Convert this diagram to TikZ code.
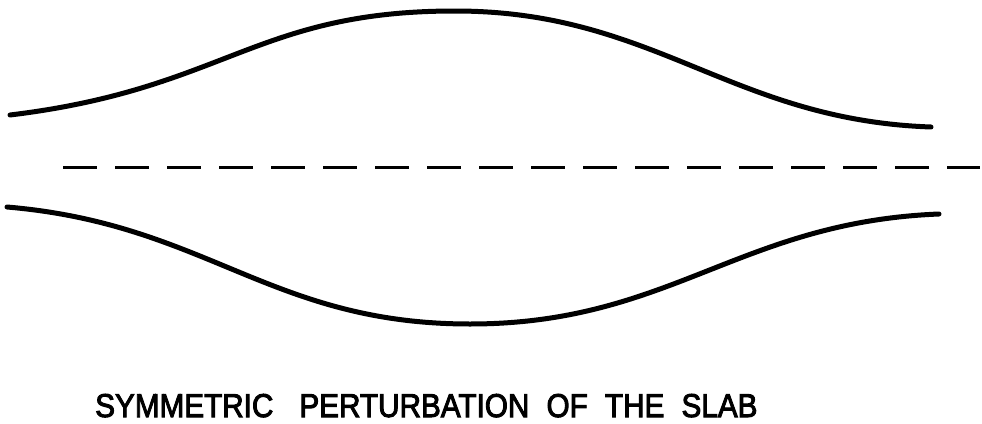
\documentclass[tikz,border=0pt]{standalone}
\usepackage{fontspec}
\setmainfont{Liberation Sans}[FakeBold=3]
\tikzset{
  slab/.style={line width=5pt, line cap=round, line join=round},
  midline/.style={line width=3pt, dash pattern=on 34pt off 18pt},
  caption/.style={font=\fontsize{33}{36}\selectfont, inner sep=0pt, anchor=base west}
}
\begin{document}
\begin{tikzpicture}[x=1pt,y=-1pt]
\useasboundingbox (0,0) rectangle (982,423);
\coordinate (u0) at (10,115);
\coordinate (u1) at (455,11);
\coordinate (u2) at (931,127);
\coordinate (l0) at (7,207);
\coordinate (l1) at (470,324);
\coordinate (l2) at (939,214);
\draw[slab] (u0) .. controls (225,89) and (255,11) .. (u1)
                 .. controls (655,11) and (731,120) .. (u2);
\draw[slab] (l0) .. controls (207,224) and (270,324) .. (l1)
                 .. controls (670,324) and (739,222) .. (l2);
\coordinate (d1) at (63,167);
\coordinate (d2) at (980,167);
\draw[midline] (d1) -- (d2);
\node[caption] (cap) at (95,417) {\scalebox{0.9}[1]{SYMMETRIC\hspace{0.6em} PERTURBATION\hspace{0.3em} OF\hspace{0.3em} THE\hspace{0.3em} SLAB}};
\end{tikzpicture}
\end{document}
